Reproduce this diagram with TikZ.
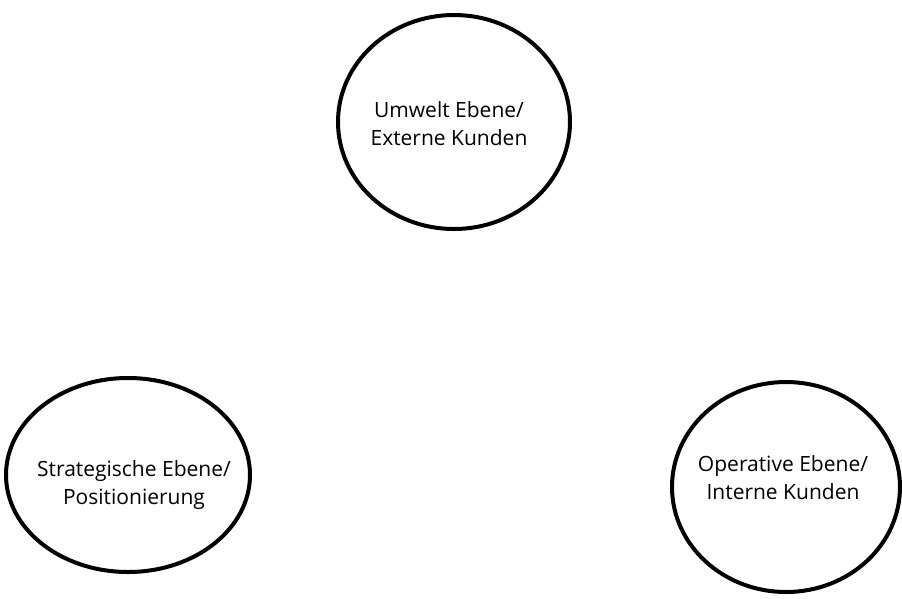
\documentclass[tikz,border=0pt]{standalone}
\usepackage{fontspec}
\setmainfont{Open Sans}
\usetikzlibrary{shapes.geometric}
\begin{document}
\begin{tikzpicture}[x=1pt,y=-1pt,
  ring/.style={ellipse, draw=black, line width=4pt, inner sep=0pt},
  label/.style={align=center, font=\fontsize{21}{28}\selectfont, text=black}]
\useasboundingbox (0,0) rectangle (902,598);
\node[ring, minimum width=232, minimum height=214] (umwelt) at (454,122) {};
\node[label] (tu) at (449,124) {Umwelt Ebene/\\Externe Kunden};
\node[ring, minimum width=244, minimum height=194] (strat) at (128,475) {};
\node[label] (ts) at (134,485) {Strategische Ebene/\\Positionierung};
\node[ring, minimum width=228, minimum height=210] (oper) at (786,487) {};
\node[label] (to) at (783,478) {Operative Ebene/\\Interne Kunden};
\end{tikzpicture}
\end{document}
